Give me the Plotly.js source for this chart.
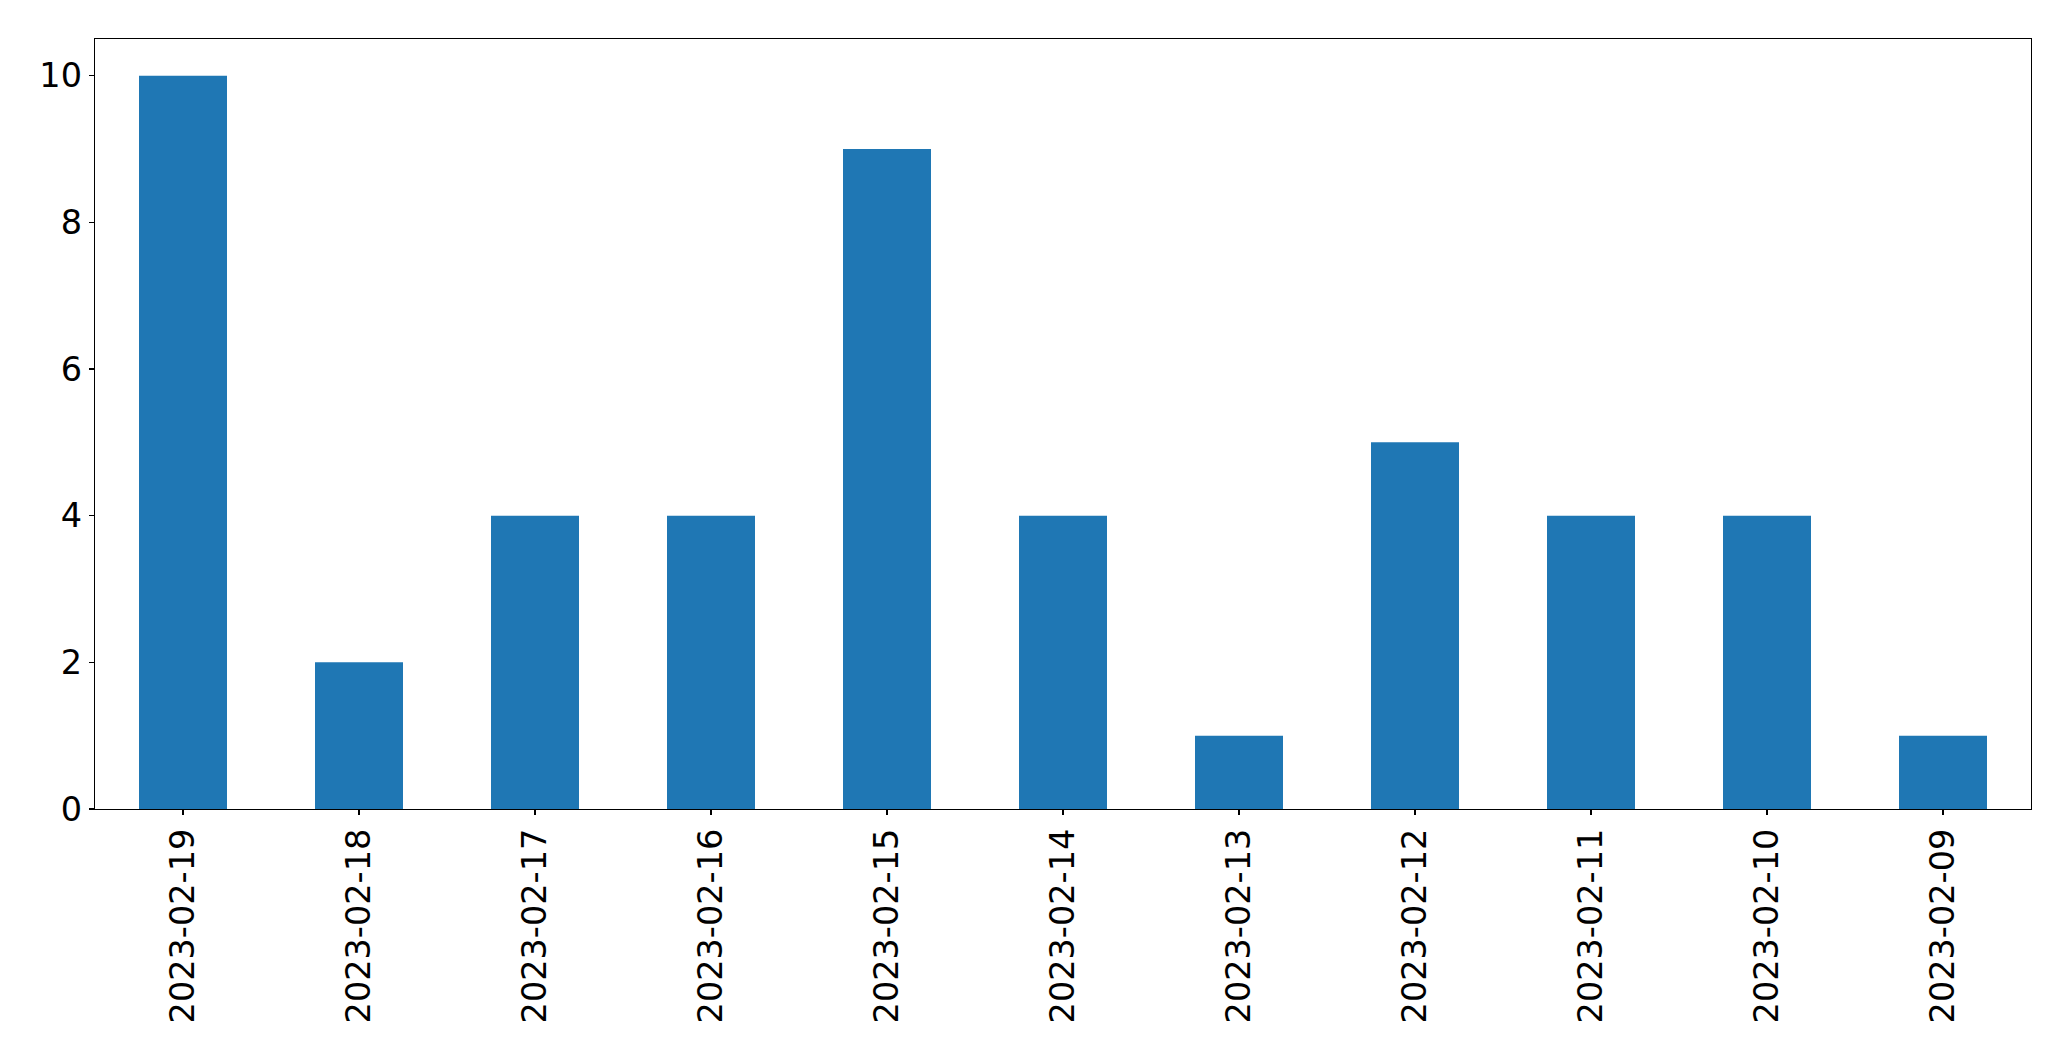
<!DOCTYPE html>
<html>
<head>
<meta charset="utf-8">
<script src="https://cdn.plot.ly/plotly-3.0.1.min.js"></script>
<style>html,body{margin:0;padding:0;background:#fff;}#chart{width:2071px;height:1061px;}</style>
</head>
<body>
<div id="chart"></div>
<script>
const dates = ["2023-02-19","2023-02-18","2023-02-17","2023-02-16","2023-02-15","2023-02-14","2023-02-13","2023-02-12","2023-02-11","2023-02-10","2023-02-09"];
const counts = [10, 2, 4, 4, 9, 4, 1, 5, 4, 4, 1];
const yTicks = [0, 2, 4, 6, 8, 10];

const font = {family: "DejaVu Sans", size: 33.5, color: "#000"};
Plotly.newPlot("chart", [{
  type: "bar",
  x: dates,
  y: counts,
  width: 0.5,
  marker: {color: "#1f77b4", line: {width: 0}},
  hoverinfo: "x+y"
}], {
  width: 2071, height: 1061,
  margin: {l: 95, r: 40, t: 39, b: 252},
  paper_bgcolor: "#fff", plot_bgcolor: "#fff",
  showlegend: false,
  font: font,
  xaxis: {
    type: "category",
    range: [-0.5, dates.length - 0.5],
    tickangle: -90,
    ticks: "outside", ticklen: 5, tickwidth: 1.3, tickcolor: "#000",
    showline: true, linecolor: "#000", linewidth: 1.3, mirror: true,
    showgrid: false, zeroline: false,
    tickfont: font, automargin: false
  },
  yaxis: {
    range: [0, 10.5],
    tickvals: yTicks,
    ticktext: yTicks.map(String),
    ticks: "outside", ticklen: 5, tickwidth: 1.3, tickcolor: "#000",
    showline: true, linecolor: "#000", linewidth: 1.3, mirror: true,
    showgrid: false, zeroline: false,
    tickfont: font, automargin: false
  }
}, {displayModeBar: false, staticPlot: true});
</script>
</body>
</html>
